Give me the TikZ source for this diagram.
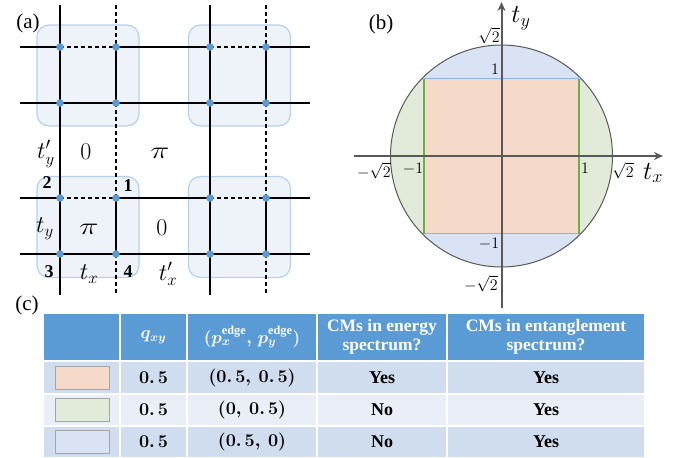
\documentclass[tikz,border=0pt]{standalone}
\usepackage{fontspec}
\setmainfont{Liberation Serif}
\usepackage{amsmath,bm}
\usepackage{fix-cm}
\usetikzlibrary{arrows.meta}
\definecolor{boxfill}{HTML}{EEF3FA}
\definecolor{boxline}{HTML}{B9D0EA}
\definecolor{dotblue}{HTML}{5B9BD5}
\definecolor{cblue}{HTML}{DAE3F3}
\definecolor{cgreen}{HTML}{E2EBD9}
\definecolor{corange}{HTML}{F5DACA}
\definecolor{egreen}{HTML}{70AD47}
\definecolor{eblue}{HTML}{8FB4E3}
\definecolor{axisgray}{HTML}{595959}
\definecolor{hdr}{HTML}{5B9BD5}
\definecolor{rowA}{HTML}{CFDDEE}
\definecolor{rowB}{HTML}{E9EEF7}
\newcommand{\hv}{\bm{0.\,5}}
\newcommand{\wpi}{\scalebox{1.35}[1]{$\pi$}}
\tikzset{
  cellbox/.style={rounded corners=12pt, fill=boxfill, draw=boxline, line width=1.2pt, inner sep=0, minimum width=102pt, minimum height=101pt},
  site/.style={circle, fill=dotblue, inner sep=0, minimum size=7.5pt},
  bond/.style={line width=1.5pt, black},
  weak/.style={line width=1.4pt, black, dash pattern=on 4pt off 3pt},
  lab/.style={font=\fontsize{24}{24}\selectfont, inner sep=0},
  num/.style={font=\fontsize{18}{18}\selectfont\bfseries, inner sep=0},
  panel/.style={font=\fontsize{21}{21}\selectfont, inner sep=0},
  axlab/.style={font=\fontsize{16}{16}\selectfont, inner sep=0},
  axname/.style={font=\fontsize{26}{26}\selectfont, inner sep=0},
  tcell/.style={draw=white, line width=1.2pt, inner sep=0, align=center},
  thead/.style={tcell, fill=hdr, text=white, font=\fontsize{17.5}{19}\selectfont\bfseries},
  tbodyA/.style={tcell, fill=rowA, font=\fontsize{18}{18}\selectfont\bfseries},
  tbodyB/.style={tcell, fill=rowB, font=\fontsize{18}{18}\selectfont\bfseries},
  swatch/.style={draw=black!35, line width=1pt, inner sep=0, minimum width=54pt, minimum height=23pt},
}
\begin{document}
\begin{tikzpicture}[x=1pt,y=-1pt]
\useasboundingbox (0,0) rectangle (683,458);
% ---------- panel (a)
\node[cellbox] (bx1) at (88,75.5) {};
\node[cellbox] (bx2) at (239.5,75.5) {};
\node[cellbox] (bx3) at (88,227) {};
\node[cellbox] (bx4) at (239.5,227) {};
\foreach \x [count=\i] in {60,116,210,266} {
  \coordinate (T\i) at (\x,5);
  \coordinate (B\i) at (\x,295);
  \foreach \y [count=\j] in {47,103,198,254} {
    \coordinate (p\i\j) at (\x,\y);
  }
}
\foreach \y [count=\j] in {47,103,198,254} {
  \coordinate (L\j) at (20,\y);
  \coordinate (R\j) at (310,\y);
}
\foreach \j in {1,3} {
  \draw[bond] (L\j) -- (p1\j);
  \draw[weak] (p1\j) -- (p2\j);
  \draw[bond] (p2\j) -- (p3\j);
  \draw[weak] (p3\j) -- (p4\j);
  \draw[bond] (p4\j) -- (R\j);
}
\foreach \j in {2,4} { \draw[bond] (L\j) -- (R\j); }
\foreach \i in {1,3} { \draw[bond] (T\i) -- (B\i); }
\foreach \i in {2,4} {
  \draw[weak] (T\i) -- (p\i1);
  \draw[bond] (p\i1) -- (p\i2);
  \draw[weak] (p\i2) -- (p\i3);
  \draw[bond] (p\i3) -- (p\i4);
  \draw[weak] (p\i4) -- (B\i);
}
\foreach \i in {1,...,4} { \foreach \j in {1,...,4} { \node[site] (s\i\j) at (p\i\j) {}; } }
\node[panel] (la) at (28,23) {(a)};
\node[lab] (typ) at (46,154) {$t'_y$};
\node[lab] (z1) at (86,152) {$0$};
\node[lab] (pi1) at (160,153) {\wpi};
\node[num] (n2) at (47,183) {2};
\node[num] (n1) at (128,186) {1};
\node[lab] (ty) at (45,229) {$t_y$};
\node[lab] (pi2) at (89,229) {\wpi};
\node[lab] (z2) at (162,228) {$0$};
\node[num] (n3) at (49,272) {3};
\node[lab] (tx) at (89,274) {$t_x$};
\node[num] (n4) at (128,272) {4};
\node[lab] (txp) at (168,274) {$t'_x$};
% ---------- panel (b)
\coordinate (O) at (501.5,156);
\begin{scope}
  \clip (O) circle (111);
  \fill[cblue] (390,45) rectangle (613,267);
  \fill[cgreen] (390,45) rectangle (424,267);
  \fill[cgreen] (579,45) rectangle (613,267);
  \fill[corange] (424,78.5) rectangle (579,233.5);
\end{scope}
\coordinate (q1) at (424,78.5);
\coordinate (q2) at (579,78.5);
\coordinate (q3) at (579,233.5);
\coordinate (q4) at (424,233.5);
\draw[eblue, line width=1.6pt] (q1) -- (q2);
\draw[eblue, line width=1.6pt] (q4) -- (q3);
\draw[egreen, line width=1.6pt] (q1) -- (q4);
\draw[egreen, line width=1.6pt] (q2) -- (q3);
\draw[axisgray, line width=1pt] (O) circle (111);
\coordinate (xl) at (354,156);
\coordinate (xr) at (663,156);
\coordinate (yb) at (501.5,308);
\coordinate (yt) at (501.5,2);
\draw[axisgray, line width=2pt, -{Stealth[length=9pt,width=8pt]}] (xl) -- (xr);
\draw[axisgray, line width=2pt, -{Stealth[length=9pt,width=8pt]}] (yb) -- (yt);
\node[panel] (lb) at (381,24) {(b)};
\node[axname] (aty) at (521,18) {$t_y$};
\node[axname] (atx) at (653,173) {$t_x$};
\node[axlab] (y2) at (489,36) {$\sqrt{2}$};
\node[axlab] (y1) at (495,69) {$1$};
\node[axlab] (ym1) at (489,244) {$-1$};
\node[axlab] (ym2) at (481,284) {$-\sqrt{2}$};
\node[axlab] (xm2) at (374,171) {$-\sqrt{2}$};
\node[axlab] (xm1) at (413,169) {$-1$};
\node[axlab] (x1) at (585,168) {$1$};
\node[axlab] (x2) at (623,171) {$\sqrt{2}$};
% ---------- panel (c)
\node[panel] (lc) at (27,305) {(c)};
\node[thead, minimum width=77pt, minimum height=48pt] (h1) at (81.5,337) {};
\node[thead, minimum width=67pt, minimum height=48pt] (h2) at (153.5,337) {$\bm{q}_{\bm{xy}}$};
\node[thead, minimum width=130pt, minimum height=48pt] (h3) at (252,337) {$\bm{(p}_{\bm{x}}^{\mathbf{edge}}\bm{,\,p}_{\bm{y}}^{\mathbf{edge}}\bm{)}$};
\node[thead, minimum width=130pt, minimum height=48pt] (h4) at (382,337) {CMs in energy\\spectrum?};
\node[thead, minimum width=198pt, minimum height=48pt] (h5) at (546,337) {CMs in entanglement\\spectrum?};
% row 1
\node[tbodyA, minimum width=77pt, minimum height=33pt] (r1c1) at (81.5,377.5) {};
\node[tbodyA, minimum width=67pt, minimum height=33pt] (r1c2) at (153.5,377.5) {$\hv$};
\node[tbodyA, minimum width=130pt, minimum height=33pt] (r1c3) at (252,377.5) {$\bm{(}\hv\bm{,}\ \hv\bm{)}$};
\node[tbodyA, minimum width=130pt, minimum height=33pt] (r1c4) at (382,377.5) {Yes};
\node[tbodyA, minimum width=198pt, minimum height=33pt] (r1c5) at (546,377.5) {Yes};
% row 2
\node[tbodyB, minimum width=77pt, minimum height=32pt] (r2c1) at (81.5,410) {};
\node[tbodyB, minimum width=67pt, minimum height=32pt] (r2c2) at (153.5,410) {$\hv$};
\node[tbodyB, minimum width=130pt, minimum height=32pt] (r2c3) at (252,410) {$\bm{(0,}\ \hv\bm{)}$};
\node[tbodyB, minimum width=130pt, minimum height=32pt] (r2c4) at (382,410) {No};
\node[tbodyB, minimum width=198pt, minimum height=32pt] (r2c5) at (546,410) {Yes};
% row 3
\node[tbodyA, minimum width=77pt, minimum height=32pt] (r3c1) at (81.5,442) {};
\node[tbodyA, minimum width=67pt, minimum height=32pt] (r3c2) at (153.5,442) {$\hv$};
\node[tbodyA, minimum width=130pt, minimum height=32pt] (r3c3) at (252,442) {$\bm{(}\hv\bm{,}\ \bm{0)}$};
\node[tbodyA, minimum width=130pt, minimum height=32pt] (r3c4) at (382,442) {No};
\node[tbodyA, minimum width=198pt, minimum height=32pt] (r3c5) at (546,442) {Yes};
\node[swatch, fill=corange] (sw1) at (82,377.5) {};
\node[swatch, fill=cgreen] (sw2) at (82,410) {};
\node[swatch, fill=cblue] (sw3) at (82,442) {};
\end{tikzpicture}
\end{document}
